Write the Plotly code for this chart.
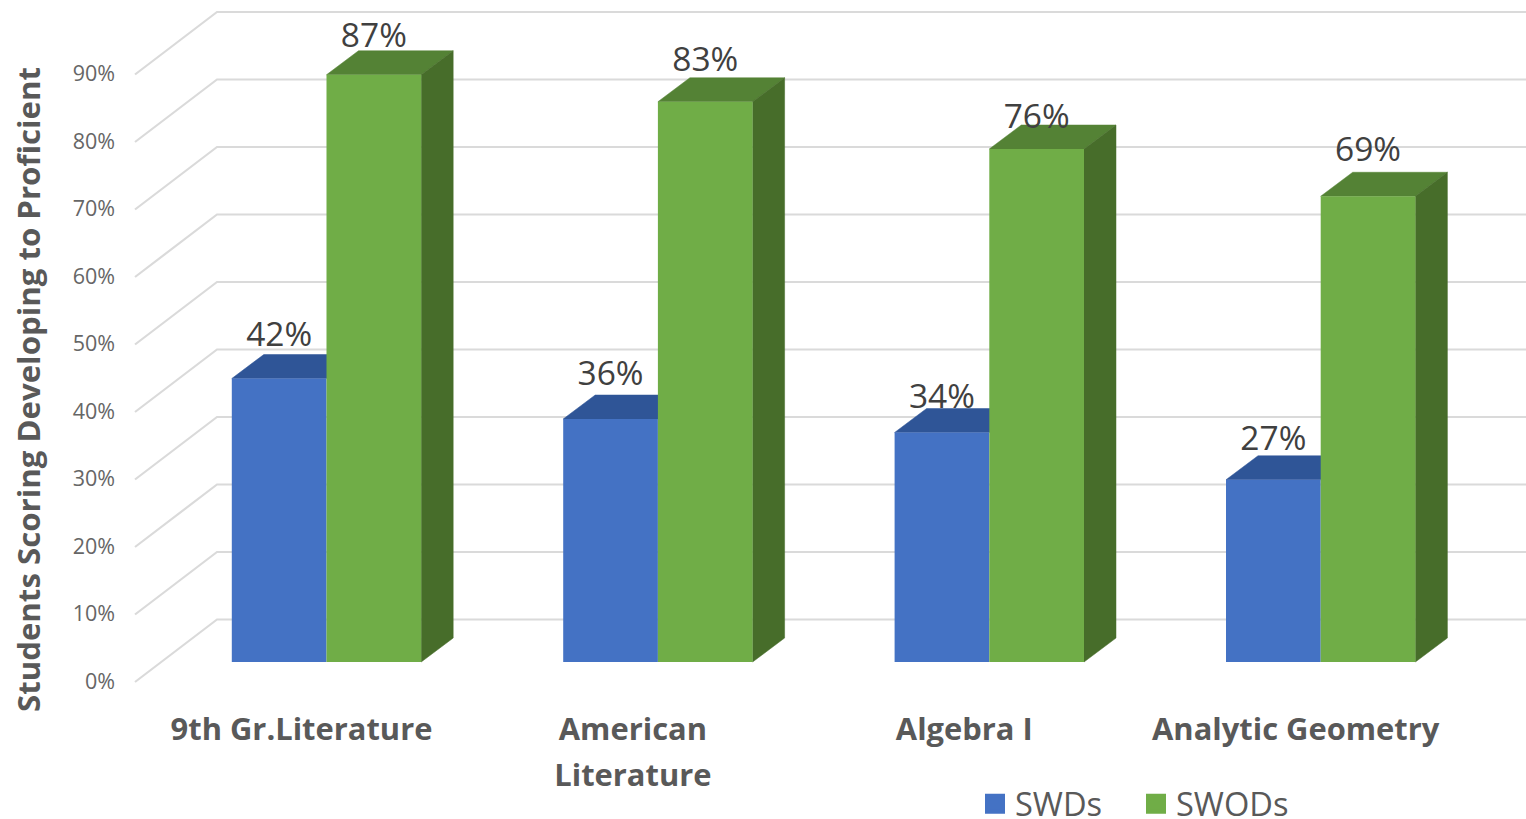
import plotly.graph_objects as go

# Chart data
subjects = ["9th Gr.Literature", "American<br>Literature", "Algebra I", "Analytic Geometry"]
swd_values = [42, 36, 34, 27]
swod_values = [87, 83, 76, 69]
percent_ticks = [0, 10, 20, 30, 40, 50, 60, 70, 80, 90]
percent_labels = ["0%", "10%", "20%", "30%", "40%", "50%", "60%", "70%", "80%", "90%"]

# Upward shift of each value label above its bar, in pixels
swd_label_lift = [41, 42.5, 33, 38]
swod_label_lift = [36, 39, 29.5, 44]

WIDTH, HEIGHT = 1526, 819
GROUP_PX = 331.4        # distance between neighbouring subjects
UNIT_PX = 6.75          # pixels per percentage point
ZERO_X_PX = 326.5       # pixel column of the first subject
ZERO_Y_PX = 662         # pixel row of 0% on the bar fronts
BAR_W = 94.7 / GROUP_PX
DEPTH_X = 32 / GROUP_PX
DEPTH_Y = 24 / UNIT_PX

BLUE, BLUE_TOP = "#4472C4", "#2F5597"
GREEN, GREEN_TOP, GREEN_SIDE = "#70AD47", "#548235", "#476D2A"
GRID = "#DADADA"
LABEL = "#595959"
FONT = "Open Sans"


def px_x(px):
    return (px - ZERO_X_PX) / GROUP_PX


def px_dy(px):
    return px / UNIT_PX


x_range = [px_x(0), px_x(WIDTH)]
y_range = [(ZERO_Y_PX - HEIGHT) / UNIT_PX, ZERO_Y_PX / UNIT_PX]
positions = list(range(len(subjects)))

fig = go.Figure()

# Back wall: each gridline runs along the side wall and then across the back
wall_front_x, wall_back_x = px_x(135), px_x(217)
wall_front_y, wall_back_y = px_dy(-20), px_dy(42.5)
grid_x, grid_y = [], []
for tick in percent_ticks:
    grid_x += [wall_front_x, wall_back_x, x_range[1], None]
    grid_y += [tick + wall_front_y, tick + wall_back_y, tick + wall_back_y, None]
fig.add_trace(go.Scatter(x=grid_x, y=grid_y, mode="lines", showlegend=False, hoverinfo="skip",
                         line=dict(color=GRID, width=2.2)))


def add_face(xs, ys, color):
    fig.add_trace(go.Scatter(x=xs, y=ys, mode="lines", fill="toself", fillcolor=color,
                             line=dict(color=color, width=0.5), showlegend=False, hoverinfo="skip"))


# Top and side faces of the bars
for pos, value in zip(positions, swd_values):
    left, right = pos - BAR_W, pos
    add_face([left, right, right + DEPTH_X, left + DEPTH_X, left],
             [value, value, value + DEPTH_Y, value + DEPTH_Y, value], BLUE_TOP)
for pos, value in zip(positions, swod_values):
    left, right = pos, pos + BAR_W
    add_face([left, right, right + DEPTH_X, left + DEPTH_X, left],
             [value, value, value + DEPTH_Y, value + DEPTH_Y, value], GREEN_TOP)
    add_face([right, right + DEPTH_X, right + DEPTH_X, right, right],
             [0, DEPTH_Y, value + DEPTH_Y, value, 0], GREEN_SIDE)

# Front faces sit on an overlaid subplot, above the gridlines and faces
fig.add_trace(go.Bar(x=positions, y=swd_values, width=BAR_W, offset=-BAR_W, marker=dict(color=BLUE, line_width=0),
                     name="SWDs", showlegend=False, xaxis="x2", yaxis="y2"))
fig.add_trace(go.Bar(x=positions, y=swod_values, width=BAR_W, offset=0, marker=dict(color=GREEN, line_width=0),
                     name="SWODs", showlegend=False, xaxis="x2", yaxis="y2"))

# Value labels
label_x = [p - BAR_W / 2 for p in positions] + [p + BAR_W / 2 for p in positions]
label_y = [v + px_dy(l) for v, l in zip(swd_values, swd_label_lift)] + \
          [v + px_dy(l) for v, l in zip(swod_values, swod_label_lift)]
label_text = [f"{v}%" for v in swd_values + swod_values]
fig.add_trace(go.Scatter(x=label_x, y=label_y, text=label_text, mode="text", textposition="middle center",
                         textfont=dict(family=FONT, size=33.5, color="#404040"),
                         showlegend=False, hoverinfo="skip", xaxis="x2", yaxis="y2"))

# Legend keys
for name, color in (("SWDs", BLUE), ("SWODs", GREEN)):
    fig.add_trace(go.Scatter(x=[None], y=[None], mode="markers", name=name,
                             marker=dict(symbol="square", size=16, color=color, line=dict(color=color, width=4)),
                             xaxis="x2", yaxis="y2"))

# The wider tick font sets the line spacing, the spans set the glyph size
tick_labels = ["<br>".join(f'<span style="font-size:30.9px">{p}</span>' for p in s.split("<br>")) for s in subjects]

hidden = dict(visible=False, fixedrange=True)
fig.update_layout(
    width=WIDTH, height=HEIGHT, margin=dict(l=0, r=0, t=0, b=0, autoexpand=False),
    paper_bgcolor="white", plot_bgcolor="white", barmode="overlay",
    font=dict(family=FONT, color=LABEL),
    xaxis=dict(range=x_range, showgrid=False, zeroline=False, showline=False, ticks="",
               tickmode="array", tickvals=[p - 25 / GROUP_PX for p in positions], ticktext=tick_labels,
               tickfont=dict(family=FONT, size=35.4, color=LABEL, weight="bold"),
               anchor="free", position=1 - 704 / HEIGHT, tickangle=0),
    yaxis=dict(range=y_range, **hidden),
    xaxis2=dict(range=x_range, overlaying="x", **hidden),
    yaxis2=dict(range=y_range, overlaying="y", **hidden),
    yaxis3=dict(range=[(681 - HEIGHT) / 6.745, 681 / 6.745], overlaying="y", anchor="free", position=115 / WIDTH,
                side="left", showgrid=False, zeroline=False, showline=False, ticks="",
                tickmode="array", tickvals=percent_ticks, ticktext=percent_labels,
                tickfont=dict(family=FONT, size=21.5, color="#666666")),
    legend=dict(orientation="h", x=975 / WIDTH, xanchor="left", xref="container", yref="container",
                y=1 - 804 / HEIGHT, yanchor="middle",
                font=dict(family=FONT, size=32.6, color=LABEL), entrywidth=116, entrywidthmode="pixels",
                bgcolor="rgba(0,0,0,0)"),
    annotations=[dict(text="Students Scoring Developing to Proficient", textangle=-90, xref="paper", yref="paper",
                      x=28 / WIDTH, y=1 - 390 / HEIGHT, showarrow=False, xanchor="center", yanchor="middle",
                      font=dict(family=FONT, size=31.2, color=LABEL, weight="bold"))],
)

# The percentage axis needs a trace to be drawn
fig.add_trace(go.Scatter(x=[None], y=[0, 90], mode="none", showlegend=False, hoverinfo="skip",
                         xaxis="x2", yaxis="y3"))

fig.write_html("out.html", config=dict(displayModeBar=False))
